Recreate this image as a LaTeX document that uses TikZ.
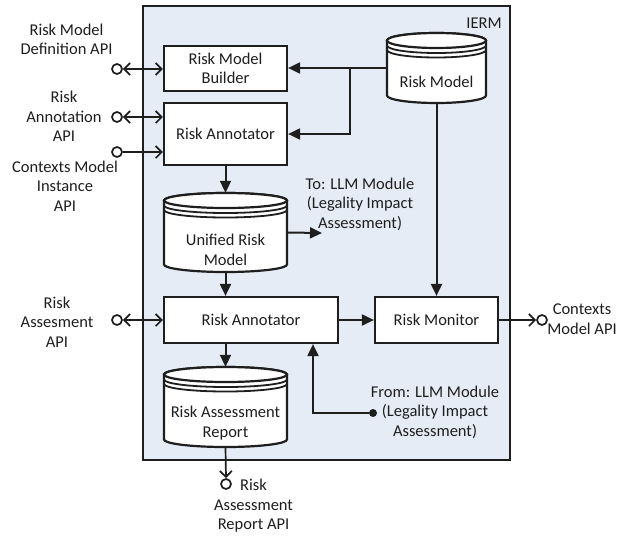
\documentclass[tikz,border=0pt]{standalone}
\usepackage{fontspec}
\setmainfont{Carlito}
\usetikzlibrary{arrows.meta,calc}
\definecolor{iermfill}{RGB}{230,236,246}
\definecolor{ink}{RGB}{30,30,30}
\tikzset{
 lbl/.style={align=center, inner sep=0pt, text=ink, font=\fontsize{16.5}{19.5}\selectfont},
 box/.style={lbl, draw=ink, line width=2.2pt, fill=white},
 outer/.style={draw=ink, line width=2.2pt, fill=iermfill, inner sep=0pt},
 arr/.style={draw=ink, line width=2pt, -{Triangle[length=12pt,width=11pt]}},
 apiline/.style={draw=ink, line width=1.7pt},
 barbs/.style={apiline, {Straight Barb[length=6pt,width=12pt]}-{Straight Barb[length=6pt,width=12pt]}},
 barbe/.style={apiline, -{Straight Barb[length=6pt,width=12pt]}},
 port/.style={circle, draw=ink, line width=1.7pt, fill=white, minimum size=10pt, inner sep=0pt},
 dotnode/.style={circle, fill=ink, minimum size=8pt, inner sep=0pt},
 cyl/.style={draw=ink, line width=2.2pt, fill=white},
 cylline/.style={draw=ink, line width=1.8pt},
 hold/.style={draw=none, inner sep=0pt},
}
\newcommand\cylnode[7]{%
 \pgfmathsetmacro\cylcx{(#2+#4)/2}%
 \pgfmathsetmacro\cylrx{(#4-#2)/2}%
 \pgfmathsetmacro\cylcy{(#3+#5)/2}%
 \pgfmathsetmacro\cylw{#4-#2}%
 \pgfmathsetmacro\cylh{#5-#3}%
 \draw[cyl] (#2,#3+7.5) -- (#2,#5-7.5) arc[start angle=180,end angle=360,x radius=\cylrx pt,y radius=7.5pt] -- (#4,#3+7.5) arc[start angle=0,end angle=180,x radius=\cylrx pt,y radius=7.5pt] -- cycle;
 \draw[cyl] (\cylcx,#3+7.5) ellipse[x radius=\cylrx pt, y radius=7.5pt];
 \draw[cylline] (#2,#3+12.5) arc[start angle=180,end angle=360,x radius=\cylrx pt,y radius=7.5pt];
 \draw[cylline] (#2,#3+17) arc[start angle=180,end angle=360,x radius=\cylrx pt,y radius=7.5pt];
 \node[hold, minimum width=\cylw pt, minimum height=\cylh pt] (#1) at (\cylcx,\cylcy) {};
 \node[lbl] (#1-t) at (\cylcx,#6) {#7};
}
\begin{document}
\begin{tikzpicture}[x=1pt,y=-1pt]
\useasboundingbox[fill=white] (0,0) rectangle (634,538);
\node[outer, minimum width=367pt, minimum height=454pt] (ierm) at (326.5,233) {};
\node[lbl] (iermlbl) at (484,23) {IERM};
\node[box, minimum width=123pt, minimum height=45pt] (rmb) at (225.5,68.5) {Risk Model\\Builder};
\node[box, minimum width=123pt, minimum height=62pt] (ra1) at (225.5,134) {Risk Annotator};
\cylnode{rm}{387}{33}{486}{103}{82}{Risk Model}
\cylnode{urm}{164}{193}{287}{272}{250}{Unified Risk\\Model}
\node[box, minimum width=174pt, minimum height=46pt] (ra2) at (251,320) {Risk Annotator};
\node[box, minimum width=123pt, minimum height=46pt] (mon) at (436.5,320) {Risk Monitor};
\cylnode{rar}{164}{367}{287}{447}{423}{Risk Assessment\\Report}
% internal arrows
\coordinate (br) at (350,68);
\draw[arr] (rm.west) -- (rm.west -| rmb.east);
\draw[arr] (br) |- (ra1.east);
\draw[arr] (rm.south) -- (rm.south |- mon.north);
\draw[arr] (ra1.south) -- (urm.north);
\coordinate (tollm) at (322,233);
\draw[arr] (urm.east) -- (tollm);
\draw[arr] (urm.south) -- (urm.south |- ra2.north);
\draw[arr] (ra2.east) -- (mon.west);
\draw[arr] (rar.north |- ra2.south) -- (rar.north);
\node[dotnode] (fromllm) at (373,413) {};
\coordinate (turn) at (313,413);
\draw[arr] (fromllm) -- (turn) -- (turn |- ra2.south);
% ports
\node[port] (p1) at (117,69) {};
\draw[barbs] (p1.east) -- (p1.east -| rmb.west);
\node[port] (p2) at (117,117) {};
\draw[barbs] (p2.east) -- (p2.east -| ra1.west);
\node[port] (p3) at (117,152) {};
\draw[barbe] (p3.east) -- (p3.east -| ra1.west);
\node[port] (p4) at (117,320) {};
\draw[barbs] (p4.east) -- (p4.east -| ra2.west);
\node[port] (p5) at (542,320) {};
\draw[barbe] (mon.east) -- (p5.west);
\node[port] (p6) at (226,484) {};
\draw[barbe] (rar.south) -- (p6.north);
% labels
\node[lbl] (l1) at (66.5,39.5) {Risk Model\\Definition API};
\node[lbl] (l2) at (64,116.5) {Risk\\Annotation\\API};
\node[lbl] (l3) at (65,186) {Contexts Model\\Instance\\API};
\node[lbl] (l4) at (57,322) {Risk\\Assesment\\API};
\node[lbl] (l5) at (360,204) {To: LLM Module\\(Legality Impact\\Assessment)};
\node[lbl] (l6) at (435,412) {From: LLM Module\\(Legality Impact\\Assessment)};
\node[lbl] (l7) at (582,319) {Contexts\\Model API};
\node[lbl] (l8) at (253.5,506) {Risk\\Assessment\\Report API};
\end{tikzpicture}
\end{document}
